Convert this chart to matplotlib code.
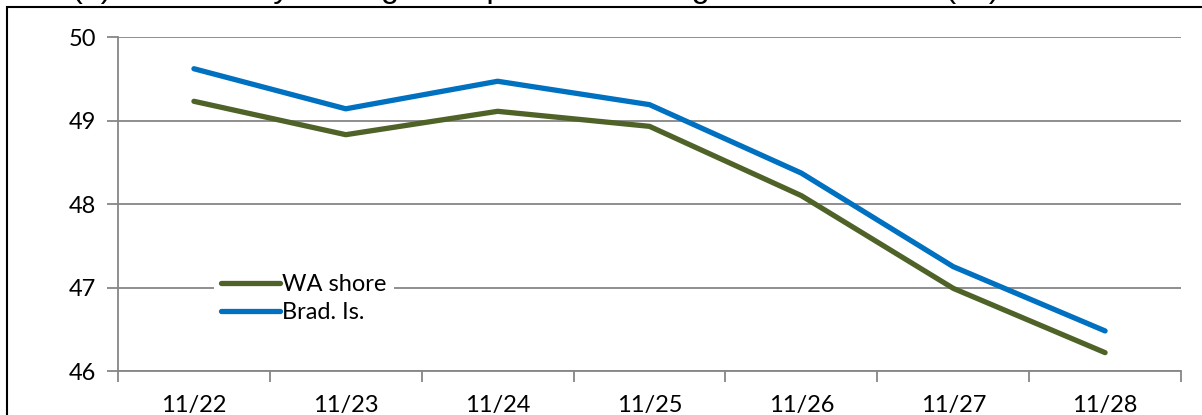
import matplotlib
matplotlib.use('Agg')
import matplotlib.pyplot as plt
from matplotlib.patches import Rectangle

# Données
dates = ['11/22', '11/23', '11/24', '11/25', '11/26', '11/27', '11/28']
wa_shore = [49.23, 48.83, 49.11, 48.93, 48.10, 46.99, 46.22]
brad_is = [49.62, 49.14, 49.47, 49.19, 48.37, 47.25, 46.48]
y_ticks = [46, 47, 48, 49, 50]

plt.rcParams['font.family'] = ['Lato', 'DejaVu Sans']

W, H = 1202, 415
fig = plt.figure(figsize=(W / 100, H / 100), dpi=100)
ax = fig.add_axes([118 / W, 1 - 371 / H, (1181 - 118) / W, (371 - 37) / H])

x = list(range(len(dates)))
ax.plot(x, wa_shore, color='#4F6228', lw=3.8, solid_capstyle='round', label='WA shore', zorder=3)
ax.plot(x, brad_is, color='#0070C0', lw=3.8, solid_capstyle='round', label='Brad. Is.', zorder=3)

ax.set_xlim(-0.5, len(dates) - 0.5)
ax.set_ylim(46, 50)
ax.set_yticks(y_ticks)
ax.set_yticklabels([str(v) for v in y_ticks], fontsize=17)
ax.yaxis.grid(True, color='#868686', lw=1.3)
ax.set_axisbelow(True)

# axe des catégories : graduations entre les catégories
ax.set_xticks([i - 0.5 for i in range(len(dates) + 1)])
ax.set_xticklabels([])
ax.set_xticks(x, minor=True)
ax.set_xticklabels(dates, minor=True, fontsize=17)
ax.tick_params(axis='x', which='minor', length=0, pad=17)
ax.tick_params(axis='x', which='major', length=8, color='#868686', width=1.3)
ax.tick_params(axis='y', length=8, color='#868686', width=1.3, pad=8)

for s in ['top', 'right']:
    ax.spines[s].set_visible(False)
for s in ['left', 'bottom']:
    ax.spines[s].set_color('#868686')
    ax.spines[s].set_linewidth(1.3)

leg = ax.legend(loc='lower left', bbox_to_anchor=(84 / 1063, 29 / 334), frameon=True,
                fontsize=17, handlelength=2.5, handletextpad=0.1, labelspacing=0.3,
                borderpad=0.3)
leg.get_frame().set_edgecolor('none')
leg.get_frame().set_facecolor('white')
leg.get_frame().set_alpha(1)

# cadre extérieur du graphique (coupé par l'image)
fig.patches.append(Rectangle((7 / W, -0.2), 1.2, 1.2 - 7 / H, transform=fig.transFigure,
                             fill=False, edgecolor='black', lw=1.5, clip_on=False))

# titre coupé en haut de l'image (seul le bas des lettres est visible)
fig.text(72 / W, 1 + 3.5 / H, '(b) Chart: Daily Average Temperature in Degrees Fahrenheit (°F)',
         fontsize=23.3, va='baseline', ha='left', family=['Liberation Sans', 'DejaVu Sans'])

fig.savefig('out.png', dpi=100)
